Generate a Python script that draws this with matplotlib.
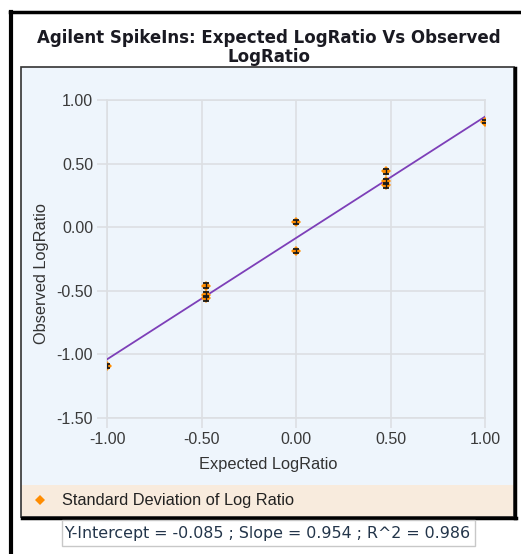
import numpy as np
import matplotlib
matplotlib.use("Agg")
import matplotlib.pyplot as plt
from matplotlib.patches import Rectangle
from matplotlib.lines import Line2D

# spike-in data
expected = [-1.0, -0.477, -0.477, -0.477, 0.0, 0.0, 0.477, 0.477, 0.477, 1.0]
observed = [-1.09, -0.46, -0.53, -0.56, 0.04, -0.19, 0.44, 0.36, 0.33, 0.83]
std_dev = [0.015, 0.018, 0.018, 0.018, 0.016, 0.016, 0.018, 0.018, 0.018, 0.014]

intercept = -0.085
slope = 0.954
r2 = 0.986

x_ticks = [-1.0, -0.5, 0.0, 0.5, 1.0]
y_ticks = [1.0, 0.5, 0.0, -0.5, -1.0, -1.5]

W, H = 521, 554
fig = plt.figure(figsize=(W / 100, H / 100), dpi=100)
fig.patch.set_facecolor("white")


def fx(x):
    return x / W


def fy(y):
    return 1 - y / H


def rect(x0, y0, x1, y1, **kw):
    r = Rectangle((fx(x0), fy(y1)), fx(x1) - fx(x0), fy(y0) - fy(y1),
                  transform=fig.transFigure, **kw)
    fig.add_artist(r)
    return r


# outer frame (top + left black lines)
fig.add_artist(Line2D([fx(10), fx(521)], [fy(11.5), fy(11.5)], color="black",
                      lw=2.5, transform=fig.transFigure, zorder=-1))
fig.add_artist(Line2D([fx(10.5), fx(10.5)], [fy(11.5), fy(554)], color="black",
                      lw=3, transform=fig.transFigure, zorder=-1))

# chart panel and legend band
rect(21, 67, 514, 517, facecolor="#eef5fc", edgecolor="none", zorder=-3)
rect(21, 485, 514, 517, facecolor="#f8ebdd", edgecolor="none", zorder=-2)
rect(21, 67, 514, 517, facecolor="none", edgecolor="#333333", lw=1.2, zorder=-1)
fig.add_artist(Line2D([fx(514.5), fx(514.5)], [fy(68), fy(518)], color="black",
                      lw=2.5, transform=fig.transFigure, zorder=-1))
fig.add_artist(Line2D([fx(22), fx(515.5)], [fy(517.5), fy(517.5)], color="black",
                      lw=2.5, transform=fig.transFigure, zorder=-1))

# title
fig.text(fx(269), fy(47.5), "Agilent SpikeIns: Expected LogRatio Vs Observed\nLogRatio",
         ha="center", va="center", fontsize=12, fontweight="bold",
         family="DejaVu Sans", color="#1a1a22", linespacing=1.08)

ax = fig.add_axes([fx(107), fy(418), fx(485) - fx(107), fy(100) - fy(418)])
ax.set_facecolor("none")
ax.set_xlim(-1.0, 1.0)
ax.set_ylim(-1.5, 1.0)
ax.set_xticks(x_ticks)
ax.set_yticks(y_ticks)
ax.set_xticklabels(["%.2f" % v for v in x_ticks])
ax.set_yticklabels(["%.2f" % v for v in y_ticks])
ax.grid(True, color="#dcdfe3", lw=1.2)
ax.set_axisbelow(True)
for s in ax.spines.values():
    s.set_color("#dcdfe3")
    s.set_linewidth(1.2)
ax.tick_params(colors="#dcdfe3", length=7, width=1.2, labelcolor="#3a3a3a",
               labelsize=11.5, pad=3)
for lab in ax.get_xticklabels() + ax.get_yticklabels():
    lab.set_family("Liberation Sans")

# axis labels are centred on the panel, not on the plot area
fig.text(fx(268), fy(465), "Expected LogRatio", ha="center", va="center",
         fontsize=11.8, family="Liberation Sans", color="#333333")
fig.text(fx(42), fy(273), "Observed LogRatio", ha="center", va="center",
         rotation=90, fontsize=11.8, family="Liberation Sans", color="#333333")

# regression line
xl = np.array([-1.0, 1.0])
ax.plot(xl, intercept + slope * xl, color="#7d3fb8", lw=1.3, zorder=3)

# points with std error bars drawn over them
ax.plot(expected, observed, "D", color="#ff8c00", markersize=5.5,
        markeredgewidth=0, zorder=4)
ax.errorbar(expected, observed, yerr=std_dev, fmt="none", ecolor="#1a1a1a",
            elinewidth=1.0, capsize=2.3, capthick=1.3, zorder=5)

# legend
fig.add_artist(Line2D([fx(40)], [fy(500)], marker="D", color="#ff8c00",
                      markersize=5, markeredgewidth=0, transform=fig.transFigure))
fig.text(fx(62), fy(500), "Standard Deviation of Log Ratio", ha="left", va="center",
         fontsize=11.8, family="Liberation Sans", color="#222222")

# regression stats box
rect(62, 520, 475, 546, facecolor="white", edgecolor="#c8c8c8", lw=1, zorder=-1)
fig.text(fx(64), fy(533.5),
         "Y-Intercept = %.3f ; Slope = %.3f ; R^2 = %.3f" % (intercept, slope, r2),
         ha="left", va="center", fontsize=11.4, family="DejaVu Sans", color="#23354a")

fig.savefig("out.png", dpi=100)
